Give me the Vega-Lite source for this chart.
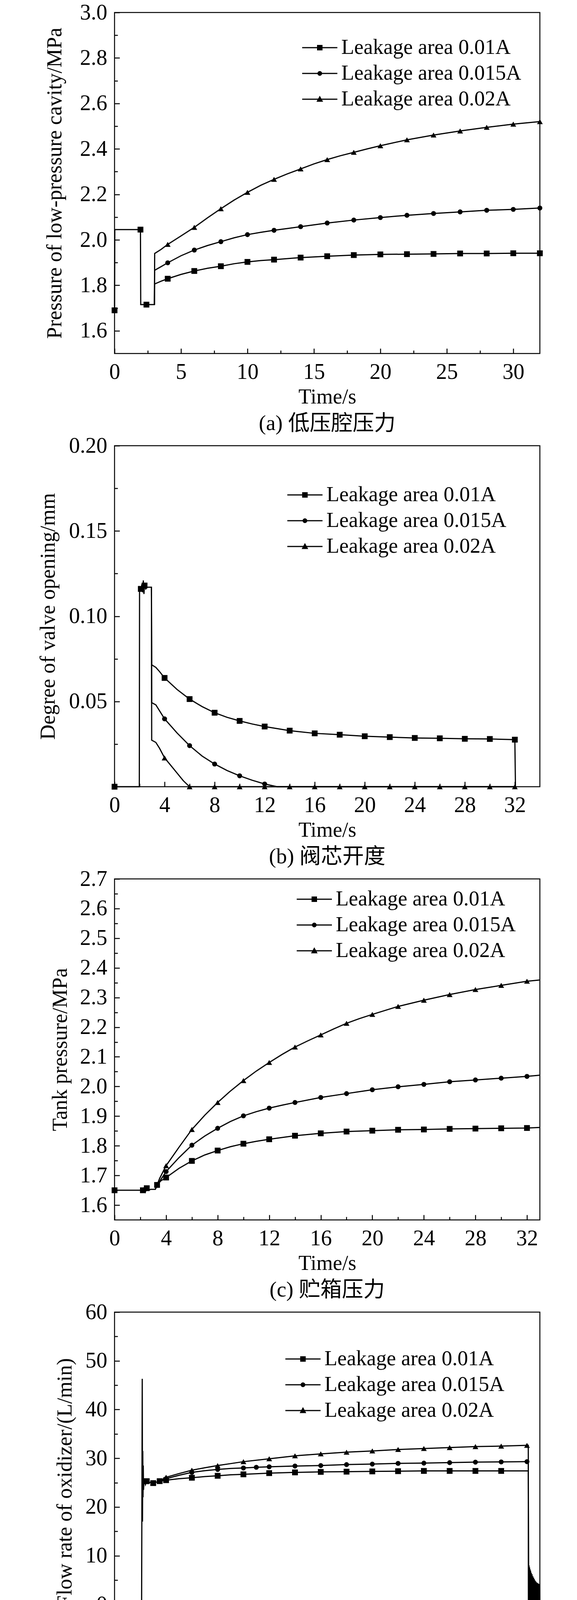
{
  "$schema": "https://vega.github.io/schema/vega-lite/v6.json",
  "background": "white",
  "padding": {"left": 94, "top": 2, "right": 5, "bottom": 0},
  "spacing": -3,
  "datasets": {
    "a": [
      {"t": 0, "v": 1.69, "s": "0.01A", "m": 1},
      {"t": 0.02, "v": 2.045, "s": "0.01A"},
      {"t": 1.95, "v": 2.045, "s": "0.01A", "m": 1},
      {"t": 1.97, "v": 1.715, "s": "0.01A"},
      {"t": 2.4, "v": 1.715, "s": "0.01A", "m": 1},
      {"t": 3.0, "v": 1.715, "s": "0.01A"},
      {"t": 3.02, "v": 1.806, "s": "0.01A"},
      {"t": 3.5, "v": 1.818, "s": "0.01A"},
      {"t": 4, "v": 1.829, "s": "0.01A", "m": 1},
      {"t": 5, "v": 1.848, "s": "0.01A"},
      {"t": 6, "v": 1.863, "s": "0.01A", "m": 1},
      {"t": 7, "v": 1.875, "s": "0.01A"},
      {"t": 8, "v": 1.884, "s": "0.01A", "m": 1},
      {"t": 9, "v": 1.895, "s": "0.01A"},
      {"t": 10, "v": 1.903, "s": "0.01A", "m": 1},
      {"t": 11, "v": 1.909, "s": "0.01A"},
      {"t": 12, "v": 1.913, "s": "0.01A", "m": 1},
      {"t": 14, "v": 1.922, "s": "0.01A", "m": 1},
      {"t": 16, "v": 1.928, "s": "0.01A", "m": 1},
      {"t": 18, "v": 1.933, "s": "0.01A", "m": 1},
      {"t": 20, "v": 1.936, "s": "0.01A", "m": 1},
      {"t": 22, "v": 1.937, "s": "0.01A", "m": 1},
      {"t": 24, "v": 1.938, "s": "0.01A", "m": 1},
      {"t": 26, "v": 1.94, "s": "0.01A", "m": 1},
      {"t": 28, "v": 1.94, "s": "0.01A", "m": 1},
      {"t": 30, "v": 1.941, "s": "0.01A", "m": 1},
      {"t": 32, "v": 1.941, "s": "0.01A", "m": 1},
      {"t": 3.0, "v": 1.715, "s": "0.015A"},
      {"t": 3.02, "v": 1.866, "s": "0.015A"},
      {"t": 3.5, "v": 1.882, "s": "0.015A"},
      {"t": 4, "v": 1.899, "s": "0.015A", "m": 1},
      {"t": 5, "v": 1.93, "s": "0.015A"},
      {"t": 6, "v": 1.955, "s": "0.015A", "m": 1},
      {"t": 7, "v": 1.975, "s": "0.015A"},
      {"t": 8, "v": 1.992, "s": "0.015A", "m": 1},
      {"t": 9, "v": 2.009, "s": "0.015A"},
      {"t": 10, "v": 2.023, "s": "0.015A", "m": 1},
      {"t": 11, "v": 2.033, "s": "0.015A"},
      {"t": 12, "v": 2.042, "s": "0.015A", "m": 1},
      {"t": 13, "v": 2.05, "s": "0.015A"},
      {"t": 14, "v": 2.058, "s": "0.015A", "m": 1},
      {"t": 16, "v": 2.074, "s": "0.015A", "m": 1},
      {"t": 18, "v": 2.087, "s": "0.015A", "m": 1},
      {"t": 20, "v": 2.098, "s": "0.015A", "m": 1},
      {"t": 22, "v": 2.108, "s": "0.015A", "m": 1},
      {"t": 24, "v": 2.116, "s": "0.015A", "m": 1},
      {"t": 26, "v": 2.123, "s": "0.015A", "m": 1},
      {"t": 28, "v": 2.13, "s": "0.015A", "m": 1},
      {"t": 30, "v": 2.134, "s": "0.015A", "m": 1},
      {"t": 32, "v": 2.14, "s": "0.015A", "m": 1},
      {"t": 3.0, "v": 1.715, "s": "0.02A"},
      {"t": 3.02, "v": 1.94, "s": "0.02A"},
      {"t": 3.5, "v": 1.958, "s": "0.02A"},
      {"t": 4, "v": 1.98, "s": "0.02A", "m": 1},
      {"t": 5, "v": 2.017, "s": "0.02A"},
      {"t": 6, "v": 2.055, "s": "0.02A", "m": 1},
      {"t": 7, "v": 2.097, "s": "0.02A"},
      {"t": 8, "v": 2.137, "s": "0.02A", "m": 1},
      {"t": 9, "v": 2.175, "s": "0.02A"},
      {"t": 10, "v": 2.209, "s": "0.02A", "m": 1},
      {"t": 11, "v": 2.24, "s": "0.02A"},
      {"t": 12, "v": 2.266, "s": "0.02A", "m": 1},
      {"t": 13, "v": 2.29, "s": "0.02A"},
      {"t": 14, "v": 2.312, "s": "0.02A", "m": 1},
      {"t": 15, "v": 2.334, "s": "0.02A"},
      {"t": 16, "v": 2.353, "s": "0.02A", "m": 1},
      {"t": 17, "v": 2.37, "s": "0.02A"},
      {"t": 18, "v": 2.385, "s": "0.02A", "m": 1},
      {"t": 19, "v": 2.4, "s": "0.02A"},
      {"t": 20, "v": 2.414, "s": "0.02A", "m": 1},
      {"t": 22, "v": 2.44, "s": "0.02A", "m": 1},
      {"t": 24, "v": 2.461, "s": "0.02A", "m": 1},
      {"t": 26, "v": 2.479, "s": "0.02A", "m": 1},
      {"t": 28, "v": 2.495, "s": "0.02A", "m": 1},
      {"t": 30, "v": 2.509, "s": "0.02A", "m": 1},
      {"t": 32, "v": 2.52, "s": "0.02A", "m": 1}
    ],
    "b": [
      {"t": 0, "v": 0, "s": "0.01A", "m": 1},
      {"t": 1.98, "v": 0, "s": "0.01A"},
      {"t": 2.0, "v": 0.117, "s": "0.01A"},
      {"t": 2.1, "v": 0.116, "s": "0.01A", "m": 1},
      {"t": 2.2, "v": 0.119, "s": "0.01A"},
      {"t": 2.25, "v": 0.114, "s": "0.01A"},
      {"t": 2.3, "v": 0.121, "s": "0.01A"},
      {"t": 2.35, "v": 0.113, "s": "0.01A"},
      {"t": 2.4, "v": 0.118, "s": "0.01A", "m": 1},
      {"t": 2.5, "v": 0.116, "s": "0.01A"},
      {"t": 2.6, "v": 0.117, "s": "0.01A"},
      {"t": 2.95, "v": 0.117, "s": "0.01A"},
      {"t": 2.97, "v": 0.0715, "s": "0.01A"},
      {"t": 3.3, "v": 0.07, "s": "0.01A"},
      {"t": 3.6, "v": 0.0675, "s": "0.01A"},
      {"t": 4, "v": 0.0638, "s": "0.01A", "m": 1},
      {"t": 5, "v": 0.057, "s": "0.01A"},
      {"t": 6, "v": 0.0514, "s": "0.01A", "m": 1},
      {"t": 7, "v": 0.047, "s": "0.01A"},
      {"t": 8, "v": 0.0434, "s": "0.01A", "m": 1},
      {"t": 9, "v": 0.0407, "s": "0.01A"},
      {"t": 10, "v": 0.0386, "s": "0.01A", "m": 1},
      {"t": 11, "v": 0.0368, "s": "0.01A"},
      {"t": 12, "v": 0.0353, "s": "0.01A", "m": 1},
      {"t": 14, "v": 0.0329, "s": "0.01A", "m": 1},
      {"t": 16, "v": 0.0313, "s": "0.01A", "m": 1},
      {"t": 18, "v": 0.0305, "s": "0.01A", "m": 1},
      {"t": 20, "v": 0.0296, "s": "0.01A", "m": 1},
      {"t": 22, "v": 0.0291, "s": "0.01A", "m": 1},
      {"t": 24, "v": 0.0286, "s": "0.01A", "m": 1},
      {"t": 26, "v": 0.0284, "s": "0.01A", "m": 1},
      {"t": 28, "v": 0.0281, "s": "0.01A", "m": 1},
      {"t": 30, "v": 0.028, "s": "0.01A", "m": 1},
      {"t": 32, "v": 0.0276, "s": "0.01A", "m": 1},
      {"t": 32.05, "v": 0, "s": "0.01A"},
      {"t": 2.95, "v": 0.117, "s": "0.015A"},
      {"t": 2.97, "v": 0.0493, "s": "0.015A"},
      {"t": 3.3, "v": 0.048, "s": "0.015A"},
      {"t": 3.6, "v": 0.0445, "s": "0.015A"},
      {"t": 4, "v": 0.0398, "s": "0.015A", "m": 1},
      {"t": 5, "v": 0.0315, "s": "0.015A"},
      {"t": 6, "v": 0.0241, "s": "0.015A", "m": 1},
      {"t": 7, "v": 0.018, "s": "0.015A"},
      {"t": 8, "v": 0.0133, "s": "0.015A", "m": 1},
      {"t": 9, "v": 0.0095, "s": "0.015A"},
      {"t": 10, "v": 0.0064, "s": "0.015A", "m": 1},
      {"t": 11, "v": 0.0038, "s": "0.015A"},
      {"t": 12, "v": 0.0016, "s": "0.015A", "m": 1},
      {"t": 13, "v": 0, "s": "0.015A"},
      {"t": 32, "v": 0, "s": "0.015A"},
      {"t": 2.95, "v": 0.117, "s": "0.02A"},
      {"t": 2.97, "v": 0.0273, "s": "0.02A"},
      {"t": 3.3, "v": 0.026, "s": "0.02A"},
      {"t": 3.6, "v": 0.0225, "s": "0.02A"},
      {"t": 4, "v": 0.0169, "s": "0.02A", "m": 1},
      {"t": 4.5, "v": 0.0125, "s": "0.02A"},
      {"t": 5, "v": 0.008, "s": "0.02A"},
      {"t": 5.5, "v": 0.0035, "s": "0.02A"},
      {"t": 6, "v": 0, "s": "0.02A", "m": 1},
      {"t": 8, "v": 0, "s": "0.02A", "m": 1},
      {"t": 10, "v": 0, "s": "0.02A", "m": 1},
      {"t": 12, "v": 0, "s": "0.02A", "m": 1},
      {"t": 14, "v": 0, "s": "0.02A", "m": 1},
      {"t": 16, "v": 0, "s": "0.02A", "m": 1},
      {"t": 18, "v": 0, "s": "0.02A", "m": 1},
      {"t": 20, "v": 0, "s": "0.02A", "m": 1},
      {"t": 22, "v": 0, "s": "0.02A", "m": 1},
      {"t": 24, "v": 0, "s": "0.02A", "m": 1},
      {"t": 26, "v": 0, "s": "0.02A", "m": 1},
      {"t": 28, "v": 0, "s": "0.02A", "m": 1},
      {"t": 30, "v": 0, "s": "0.02A", "m": 1},
      {"t": 32, "v": 0, "s": "0.02A", "m": 1}
    ],
    "c": [
      {"t": 0, "v": 1.65, "s": "0.01A", "m": 1},
      {"t": 1, "v": 1.65, "s": "0.01A"},
      {"t": 2, "v": 1.65, "s": "0.01A"},
      {"t": 2.2, "v": 1.65, "s": "0.01A", "m": 1},
      {"t": 2.25, "v": 1.642, "s": "0.01A"},
      {"t": 2.3, "v": 1.66, "s": "0.01A"},
      {"t": 2.4, "v": 1.645, "s": "0.01A"},
      {"t": 2.5, "v": 1.657, "s": "0.01A", "m": 1},
      {"t": 2.6, "v": 1.65, "s": "0.01A"},
      {"t": 2.8, "v": 1.653, "s": "0.01A"},
      {"t": 3.16, "v": 1.653, "s": "0.01A"},
      {"t": 3.3, "v": 1.668, "s": "0.01A", "m": 1},
      {"t": 3.6, "v": 1.682, "s": "0.01A"},
      {"t": 4, "v": 1.693, "s": "0.01A", "m": 1},
      {"t": 5, "v": 1.724, "s": "0.01A"},
      {"t": 6, "v": 1.749, "s": "0.01A", "m": 1},
      {"t": 7, "v": 1.769, "s": "0.01A"},
      {"t": 8, "v": 1.784, "s": "0.01A", "m": 1},
      {"t": 9, "v": 1.797, "s": "0.01A"},
      {"t": 10, "v": 1.807, "s": "0.01A", "m": 1},
      {"t": 11, "v": 1.815, "s": "0.01A"},
      {"t": 12, "v": 1.822, "s": "0.01A", "m": 1},
      {"t": 14, "v": 1.834, "s": "0.01A", "m": 1},
      {"t": 16, "v": 1.842, "s": "0.01A", "m": 1},
      {"t": 18, "v": 1.848, "s": "0.01A", "m": 1},
      {"t": 20, "v": 1.851, "s": "0.01A", "m": 1},
      {"t": 22, "v": 1.854, "s": "0.01A", "m": 1},
      {"t": 24, "v": 1.855, "s": "0.01A", "m": 1},
      {"t": 26, "v": 1.857, "s": "0.01A", "m": 1},
      {"t": 28, "v": 1.858, "s": "0.01A", "m": 1},
      {"t": 30, "v": 1.859, "s": "0.01A", "m": 1},
      {"t": 32, "v": 1.86, "s": "0.01A", "m": 1},
      {"t": 33, "v": 1.862, "s": "0.01A"},
      {"t": 3.16, "v": 1.653, "s": "0.015A"},
      {"t": 3.5, "v": 1.68, "s": "0.015A"},
      {"t": 4, "v": 1.713, "s": "0.015A", "m": 1},
      {"t": 5, "v": 1.76, "s": "0.015A"},
      {"t": 6, "v": 1.802, "s": "0.015A", "m": 1},
      {"t": 7, "v": 1.833, "s": "0.015A"},
      {"t": 8, "v": 1.859, "s": "0.015A", "m": 1},
      {"t": 9, "v": 1.882, "s": "0.015A"},
      {"t": 10, "v": 1.901, "s": "0.015A", "m": 1},
      {"t": 11, "v": 1.915, "s": "0.015A"},
      {"t": 12, "v": 1.927, "s": "0.015A", "m": 1},
      {"t": 13, "v": 1.937, "s": "0.015A"},
      {"t": 14, "v": 1.946, "s": "0.015A", "m": 1},
      {"t": 16, "v": 1.963, "s": "0.015A", "m": 1},
      {"t": 18, "v": 1.976, "s": "0.015A", "m": 1},
      {"t": 20, "v": 1.989, "s": "0.015A", "m": 1},
      {"t": 22, "v": 1.999, "s": "0.015A", "m": 1},
      {"t": 24, "v": 2.007, "s": "0.015A", "m": 1},
      {"t": 26, "v": 2.016, "s": "0.015A", "m": 1},
      {"t": 28, "v": 2.022, "s": "0.015A", "m": 1},
      {"t": 30, "v": 2.028, "s": "0.015A", "m": 1},
      {"t": 32, "v": 2.034, "s": "0.015A", "m": 1},
      {"t": 33, "v": 2.038, "s": "0.015A"},
      {"t": 3.16, "v": 1.653, "s": "0.02A"},
      {"t": 3.5, "v": 1.69, "s": "0.02A"},
      {"t": 4, "v": 1.733, "s": "0.02A", "m": 1},
      {"t": 5, "v": 1.795, "s": "0.02A"},
      {"t": 6, "v": 1.855, "s": "0.02A", "m": 1},
      {"t": 7, "v": 1.903, "s": "0.02A"},
      {"t": 8, "v": 1.946, "s": "0.02A", "m": 1},
      {"t": 9, "v": 1.985, "s": "0.02A"},
      {"t": 10, "v": 2.02, "s": "0.02A", "m": 1},
      {"t": 11, "v": 2.052, "s": "0.02A"},
      {"t": 12, "v": 2.081, "s": "0.02A", "m": 1},
      {"t": 13, "v": 2.108, "s": "0.02A"},
      {"t": 14, "v": 2.133, "s": "0.02A", "m": 1},
      {"t": 15, "v": 2.154, "s": "0.02A"},
      {"t": 16, "v": 2.174, "s": "0.02A", "m": 1},
      {"t": 17, "v": 2.194, "s": "0.02A"},
      {"t": 18, "v": 2.213, "s": "0.02A", "m": 1},
      {"t": 19, "v": 2.229, "s": "0.02A"},
      {"t": 20, "v": 2.243, "s": "0.02A", "m": 1},
      {"t": 22, "v": 2.27, "s": "0.02A", "m": 1},
      {"t": 24, "v": 2.291, "s": "0.02A", "m": 1},
      {"t": 26, "v": 2.31, "s": "0.02A", "m": 1},
      {"t": 28, "v": 2.327, "s": "0.02A", "m": 1},
      {"t": 30, "v": 2.341, "s": "0.02A", "m": 1},
      {"t": 32, "v": 2.355, "s": "0.02A", "m": 1},
      {"t": 33, "v": 2.359, "s": "0.02A"}
    ],
    "d": [
      {"t": 0, "v": 0, "s": "0.01A", "m": 1},
      {"t": 1, "v": 0, "s": "0.01A"},
      {"t": 2, "v": 0, "s": "0.01A", "m": 1},
      {"t": 2.1, "v": 0, "s": "0.01A"},
      {"t": 2.15, "v": 46.3, "s": "0.01A"},
      {"t": 2.17, "v": 17, "s": "0.01A"},
      {"t": 2.19, "v": 31.5, "s": "0.01A"},
      {"t": 2.21, "v": 22, "s": "0.01A"},
      {"t": 2.23, "v": 28.5, "s": "0.01A"},
      {"t": 2.25, "v": 23.5, "s": "0.01A"},
      {"t": 2.3, "v": 25.8, "s": "0.01A"},
      {"t": 2.4, "v": 24.6, "s": "0.01A"},
      {"t": 2.5, "v": 25.3, "s": "0.01A", "m": 1},
      {"t": 2.6, "v": 24.8, "s": "0.01A"},
      {"t": 2.8, "v": 25.1, "s": "0.01A"},
      {"t": 3, "v": 24.9, "s": "0.01A", "m": 1},
      {"t": 3.5, "v": 25.3, "s": "0.01A", "m": 1},
      {"t": 4, "v": 25.5, "s": "0.01A", "m": 1},
      {"t": 5, "v": 25.8, "s": "0.01A"},
      {"t": 6, "v": 26.0, "s": "0.01A", "m": 1},
      {"t": 7, "v": 26.25, "s": "0.01A"},
      {"t": 8, "v": 26.4, "s": "0.01A", "m": 1},
      {"t": 9, "v": 26.6, "s": "0.01A"},
      {"t": 10, "v": 26.7, "s": "0.01A", "m": 1},
      {"t": 12, "v": 26.95, "s": "0.01A", "m": 1},
      {"t": 14, "v": 27.1, "s": "0.01A", "m": 1},
      {"t": 16, "v": 27.2, "s": "0.01A", "m": 1},
      {"t": 18, "v": 27.25, "s": "0.01A", "m": 1},
      {"t": 20, "v": 27.3, "s": "0.01A", "m": 1},
      {"t": 22, "v": 27.35, "s": "0.01A", "m": 1},
      {"t": 24, "v": 27.4, "s": "0.01A", "m": 1},
      {"t": 26, "v": 27.4, "s": "0.01A", "m": 1},
      {"t": 28, "v": 27.4, "s": "0.01A", "m": 1},
      {"t": 30, "v": 27.4, "s": "0.01A", "m": 1},
      {"t": 32, "v": 27.4, "s": "0.01A"},
      {"t": 32.1, "v": 27.4, "s": "0.01A"},
      {"t": 32.12, "v": 0, "s": "0.01A"},
      {"t": 3.5, "v": 25.3, "s": "0.015A"},
      {"t": 4, "v": 25.8, "s": "0.015A", "m": 1},
      {"t": 5, "v": 26.5, "s": "0.015A"},
      {"t": 6, "v": 27.1, "s": "0.015A", "m": 1},
      {"t": 7, "v": 27.45, "s": "0.015A"},
      {"t": 8, "v": 27.7, "s": "0.015A", "m": 1},
      {"t": 9, "v": 27.9, "s": "0.015A"},
      {"t": 10, "v": 28.0, "s": "0.015A", "m": 1},
      {"t": 11, "v": 28.15, "s": "0.015A", "m": 1},
      {"t": 12, "v": 28.25, "s": "0.015A", "m": 1},
      {"t": 14, "v": 28.4, "s": "0.015A", "m": 1},
      {"t": 16, "v": 28.5, "s": "0.015A", "m": 1},
      {"t": 18, "v": 28.7, "s": "0.015A", "m": 1},
      {"t": 20, "v": 28.8, "s": "0.015A", "m": 1},
      {"t": 22, "v": 28.95, "s": "0.015A", "m": 1},
      {"t": 24, "v": 29.0, "s": "0.015A", "m": 1},
      {"t": 26, "v": 29.1, "s": "0.015A", "m": 1},
      {"t": 28, "v": 29.2, "s": "0.015A", "m": 1},
      {"t": 30, "v": 29.25, "s": "0.015A", "m": 1},
      {"t": 32, "v": 29.3, "s": "0.015A", "m": 1},
      {"t": 32.1, "v": 29.3, "s": "0.015A"},
      {"t": 32.12, "v": 0, "s": "0.015A"},
      {"t": 3.5, "v": 25.3, "s": "0.02A"},
      {"t": 4, "v": 26.1, "s": "0.02A", "m": 1},
      {"t": 5, "v": 26.85, "s": "0.02A"},
      {"t": 6, "v": 27.55, "s": "0.02A", "m": 1},
      {"t": 7, "v": 28.05, "s": "0.02A"},
      {"t": 8, "v": 28.5, "s": "0.02A", "m": 1},
      {"t": 9, "v": 28.9, "s": "0.02A"},
      {"t": 10, "v": 29.3, "s": "0.02A", "m": 1},
      {"t": 12, "v": 29.9, "s": "0.02A", "m": 1},
      {"t": 14, "v": 30.5, "s": "0.02A", "m": 1},
      {"t": 16, "v": 30.9, "s": "0.02A", "m": 1},
      {"t": 18, "v": 31.25, "s": "0.02A", "m": 1},
      {"t": 20, "v": 31.5, "s": "0.02A", "m": 1},
      {"t": 22, "v": 31.8, "s": "0.02A", "m": 1},
      {"t": 24, "v": 32.0, "s": "0.02A", "m": 1},
      {"t": 26, "v": 32.2, "s": "0.02A", "m": 1},
      {"t": 28, "v": 32.4, "s": "0.02A", "m": 1},
      {"t": 30, "v": 32.5, "s": "0.02A", "m": 1},
      {"t": 32, "v": 32.65, "s": "0.02A", "m": 1},
      {"t": 32.1, "v": 32.65, "s": "0.02A"},
      {"t": 32.12, "v": 8.2, "s": "0.02A"},
      {"t": 32.14, "v": -6.2, "s": "0.02A"},
      {"t": 32.16, "v": 8.0, "s": "0.02A"},
      {"t": 32.18, "v": -5.8, "s": "0.02A"},
      {"t": 32.2, "v": 7.6, "s": "0.02A"},
      {"t": 32.22, "v": -5.5, "s": "0.02A"},
      {"t": 32.24, "v": 7.2, "s": "0.02A"},
      {"t": 32.26, "v": -5.2, "s": "0.02A"},
      {"t": 32.28, "v": 6.9, "s": "0.02A"},
      {"t": 32.3, "v": -5.0, "s": "0.02A"},
      {"t": 32.33, "v": 6.5, "s": "0.02A"},
      {"t": 32.36, "v": -4.8, "s": "0.02A"},
      {"t": 32.39, "v": 6.2, "s": "0.02A"},
      {"t": 32.42, "v": -4.6, "s": "0.02A"},
      {"t": 32.45, "v": 5.8, "s": "0.02A"},
      {"t": 32.48, "v": -4.4, "s": "0.02A"},
      {"t": 32.51, "v": 5.5, "s": "0.02A"},
      {"t": 32.54, "v": -4.2, "s": "0.02A"},
      {"t": 32.57, "v": 5.2, "s": "0.02A"},
      {"t": 32.6, "v": -4.0, "s": "0.02A"},
      {"t": 32.63, "v": 4.9, "s": "0.02A"},
      {"t": 32.66, "v": -3.8, "s": "0.02A"},
      {"t": 32.69, "v": 4.7, "s": "0.02A"},
      {"t": 32.72, "v": -3.6, "s": "0.02A"},
      {"t": 32.75, "v": 4.5, "s": "0.02A"},
      {"t": 32.78, "v": -3.4, "s": "0.02A"},
      {"t": 32.81, "v": 4.4, "s": "0.02A"},
      {"t": 32.84, "v": -3.2, "s": "0.02A"},
      {"t": 32.87, "v": 4.3, "s": "0.02A"},
      {"t": 32.9, "v": -3.1, "s": "0.02A"},
      {"t": 32.93, "v": 4.2, "s": "0.02A"},
      {"t": 32.96, "v": -3.0, "s": "0.02A"},
      {"t": 32.99, "v": 4.2, "s": "0.02A"},
      {"t": 33.0, "v": -3.0, "s": "0.02A"}
    ],
    "e": [
      {"t": 0, "v": 0, "s": "0.01A", "m": 1},
      {"t": 1, "v": 0, "s": "0.01A"},
      {"t": 2, "v": 0, "s": "0.01A", "m": 1},
      {"t": 2.12, "v": 0, "s": "0.01A"},
      {"t": 2.15, "v": 0.83, "s": "0.01A"},
      {"t": 2.2, "v": 0.8, "s": "0.01A"},
      {"t": 2.4, "v": 0.803, "s": "0.01A"},
      {"t": 3, "v": 0.805, "s": "0.01A"},
      {"t": 3.5, "v": 0.806, "s": "0.01A"},
      {"t": 4, "v": 0.808, "s": "0.01A", "m": 1},
      {"t": 5, "v": 0.814, "s": "0.01A"},
      {"t": 6, "v": 0.82, "s": "0.01A", "m": 1},
      {"t": 7, "v": 0.823, "s": "0.01A"},
      {"t": 8, "v": 0.826, "s": "0.01A", "m": 1},
      {"t": 10, "v": 0.831, "s": "0.01A", "m": 1},
      {"t": 12, "v": 0.833, "s": "0.01A", "m": 1},
      {"t": 14, "v": 0.835, "s": "0.01A", "m": 1},
      {"t": 16, "v": 0.837, "s": "0.01A", "m": 1},
      {"t": 18, "v": 0.838, "s": "0.01A", "m": 1},
      {"t": 20, "v": 0.839, "s": "0.01A", "m": 1},
      {"t": 22, "v": 0.839, "s": "0.01A", "m": 1},
      {"t": 24, "v": 0.839, "s": "0.01A", "m": 1},
      {"t": 26, "v": 0.839, "s": "0.01A", "m": 1},
      {"t": 28, "v": 0.839, "s": "0.01A", "m": 1},
      {"t": 30, "v": 0.839, "s": "0.01A", "m": 1},
      {"t": 32, "v": 0.84, "s": "0.01A"},
      {"t": 32.1, "v": 0.84, "s": "0.01A"},
      {"t": 32.15, "v": 0.035, "s": "0.01A"},
      {"t": 32.3, "v": 0.034, "s": "0.01A", "m": 1},
      {"t": 32.8, "v": 0.032, "s": "0.01A"},
      {"t": 33.1, "v": 0.028, "s": "0.01A"},
      {"t": 33.4, "v": 0.018, "s": "0.01A"},
      {"t": 33.6, "v": 0, "s": "0.01A"},
      {"t": 3.5, "v": 0.806, "s": "0.015A"},
      {"t": 4, "v": 0.814, "s": "0.015A", "m": 1},
      {"t": 5, "v": 0.822, "s": "0.015A"},
      {"t": 6, "v": 0.83, "s": "0.015A", "m": 1},
      {"t": 7, "v": 0.836, "s": "0.015A"},
      {"t": 8, "v": 0.841, "s": "0.015A", "m": 1},
      {"t": 10, "v": 0.85, "s": "0.015A", "m": 1},
      {"t": 12, "v": 0.853, "s": "0.015A", "m": 1},
      {"t": 14, "v": 0.855, "s": "0.015A", "m": 1},
      {"t": 16, "v": 0.859, "s": "0.015A", "m": 1},
      {"t": 18, "v": 0.861, "s": "0.015A", "m": 1},
      {"t": 20, "v": 0.864, "s": "0.015A", "m": 1},
      {"t": 22, "v": 0.866, "s": "0.015A", "m": 1},
      {"t": 24, "v": 0.866, "s": "0.015A", "m": 1},
      {"t": 26, "v": 0.868, "s": "0.015A", "m": 1},
      {"t": 28, "v": 0.87, "s": "0.015A", "m": 1},
      {"t": 30, "v": 0.872, "s": "0.015A", "m": 1},
      {"t": 32, "v": 0.87, "s": "0.015A", "m": 1},
      {"t": 32.1, "v": 0.87, "s": "0.015A"},
      {"t": 32.15, "v": 0.035, "s": "0.015A"},
      {"t": 3.5, "v": 0.806, "s": "0.02A"},
      {"t": 4, "v": 0.822, "s": "0.02A", "m": 1},
      {"t": 5, "v": 0.832, "s": "0.02A"},
      {"t": 6, "v": 0.841, "s": "0.02A", "m": 1},
      {"t": 7, "v": 0.849, "s": "0.02A"},
      {"t": 8, "v": 0.857, "s": "0.02A", "m": 1},
      {"t": 9, "v": 0.864, "s": "0.02A"},
      {"t": 10, "v": 0.871, "s": "0.02A", "m": 1},
      {"t": 12, "v": 0.879, "s": "0.02A", "m": 1},
      {"t": 14, "v": 0.888, "s": "0.02A", "m": 1},
      {"t": 16, "v": 0.896, "s": "0.02A", "m": 1},
      {"t": 18, "v": 0.9, "s": "0.02A", "m": 1},
      {"t": 20, "v": 0.906, "s": "0.02A", "m": 1},
      {"t": 22, "v": 0.911, "s": "0.02A", "m": 1},
      {"t": 24, "v": 0.917, "s": "0.02A", "m": 1},
      {"t": 26, "v": 0.918, "s": "0.02A", "m": 1},
      {"t": 28, "v": 0.922, "s": "0.02A", "m": 1},
      {"t": 30, "v": 0.924, "s": "0.02A", "m": 1},
      {"t": 32, "v": 0.925, "s": "0.02A", "m": 1},
      {"t": 32.1, "v": 0.925, "s": "0.02A"},
      {"t": 32.15, "v": 0.035, "s": "0.02A"}
    ]
  },
  "vconcat": [
    {
      "width": 1088,
      "height": 873,
      "data": {"name": "a"},
      "title": {"text": "(a) 低压腔压力"},
      "encoding": {
        "x": {
          "field": "t", "type": "quantitative",
          "scale": {"domain": [0, 32], "nice": false, "zero": false},
          "axis": {
            "title": "Time/s",
            "values": [0, 2.5, 5, 7.5, 10, 12.5, 15, 17.5, 20, 22.5, 25, 27.5, 30],
            "labelExpr": "datum.value % 5 === 0 ? datum.label : ''",
            "tickSize": {"condition": {"test": "datum.value % 5 === 0", "value": -13}, "value": -8}
          }
        },
        "y": {
          "field": "v", "type": "quantitative",
          "scale": {"domain": [1.5, 3.0], "nice": false, "zero": false},
          "axis": {
            "title": "Pressure of low-pressure cavity/MPa",
            "titlePadding": 37,
            "format": ".1f",
            "values": [1.6, 1.7, 1.8, 1.9, 2.0, 2.1, 2.2, 2.3, 2.4, 2.5, 2.6, 2.7, 2.8, 2.9, 3.0],
            "labelExpr": "round(datum.value * 10) % 2 === 0 ? datum.label : ''",
            "tickSize": {"condition": {"test": "round(datum.value * 10) % 2 === 0", "value": -13}, "value": -8}
          }
        }
      },
      "layer": [
        {"mark": {"type": "line", "color": "black", "strokeWidth": 3}, "encoding": {"detail": {"field": "s"}}},
        {"transform": [{"filter": "datum.m === 1 && datum.s === '0.01A'"}], "mark": {"type": "point", "shape": "square", "filled": true, "color": "black", "opacity": 1, "size": 220}},
        {"transform": [{"filter": "datum.m === 1 && datum.s === '0.015A'"}], "mark": {"type": "point", "shape": "circle", "filled": true, "color": "black", "opacity": 1, "size": 160}},
        {"transform": [{"filter": "datum.m === 1 && datum.s === '0.02A'"}], "mark": {"type": "point", "shape": "triangle-up", "filled": true, "color": "black", "opacity": 1, "size": 220}},
        {
          "transform": [{"filter": "datum.m === 9"}],
          "mark": {"type": "point", "filled": true, "color": "black", "opacity": 1, "size": 2500},
          "encoding": {
            "shape": {
              "field": "s", "type": "nominal",
              "scale": {"domain": ["0.01A", "0.015A", "0.02A"], "range": [
                "M-1.8,-0.06L1.8,-0.06L1.8,0.06L-1.8,0.06Z M-0.28,-0.28L0.28,-0.28L0.28,0.28L-0.28,0.28Z",
                "M-1.8,-0.06L1.8,-0.06L1.8,0.06L-1.8,0.06Z M-0.24,0A0.24,0.24 0 1,1 0.24,0A0.24,0.24 0 1,1 -0.24,0Z",
                "M-1.8,-0.06L1.8,-0.06L1.8,0.06L-1.8,0.06Z M0,-0.36L0.34,0.26L-0.34,0.26Z"]},
              "legend": {"title": null, "orient": "none", "legendX": 498, "legendY": 63, "labelExpr": "'Leakage area ' + datum.label"}
            }
          }
        }
      ]
    },
    {
      "width": 1088,
      "height": 873,
      "data": {"name": "b"},
      "title": {"text": "(b) 阀芯开度"},
      "encoding": {
        "x": {
          "field": "t", "type": "quantitative",
          "scale": {"domain": [0, 34], "nice": false, "zero": false},
          "axis": {
            "title": "Time/s",
            "values": [0, 2, 4, 6, 8, 10, 12, 14, 16, 18, 20, 22, 24, 26, 28, 30, 32],
            "labelExpr": "datum.value % 4 === 0 ? datum.label : ''",
            "tickSize": {"condition": {"test": "datum.value % 4 === 0", "value": -13}, "value": -8}
          }
        },
        "y": {
          "field": "v", "type": "quantitative",
          "scale": {"domain": [0, 0.2], "nice": false, "zero": false},
          "axis": {
            "title": "Degree of valve opening/mm",
            "titlePadding": 26,
            "format": ".2f",
            "values": [0.025, 0.05, 0.075, 0.1, 0.125, 0.15, 0.175, 0.2],
            "labelExpr": "round(datum.value * 1000) % 50 === 0 ? datum.label : ''",
            "tickSize": {"condition": {"test": "round(datum.value * 1000) % 50 === 0", "value": -13}, "value": -8}
          }
        }
      },
      "layer": [
        {"mark": {"type": "line", "color": "black", "strokeWidth": 3}, "encoding": {"detail": {"field": "s"}}},
        {"transform": [{"filter": "datum.m === 1 && datum.s === '0.01A'"}], "mark": {"type": "point", "shape": "square", "filled": true, "color": "black", "opacity": 1, "size": 220}},
        {"transform": [{"filter": "datum.m === 1 && datum.s === '0.015A'"}], "mark": {"type": "point", "shape": "circle", "filled": true, "color": "black", "opacity": 1, "size": 160}},
        {"transform": [{"filter": "datum.m === 1 && datum.s === '0.02A'"}], "mark": {"type": "point", "shape": "triangle-up", "filled": true, "color": "black", "opacity": 1, "size": 220}},
        {
          "transform": [{"filter": "datum.m === 9"}],
          "mark": {"type": "point", "filled": true, "color": "black", "opacity": 1, "size": 2500},
          "encoding": {
            "shape": {
              "field": "s", "type": "nominal",
              "scale": {"domain": ["0.01A", "0.015A", "0.02A"], "range": [
                "M-1.8,-0.06L1.8,-0.06L1.8,0.06L-1.8,0.06Z M-0.28,-0.28L0.28,-0.28L0.28,0.28L-0.28,0.28Z",
                "M-1.8,-0.06L1.8,-0.06L1.8,0.06L-1.8,0.06Z M-0.24,0A0.24,0.24 0 1,1 0.24,0A0.24,0.24 0 1,1 -0.24,0Z",
                "M-1.8,-0.06L1.8,-0.06L1.8,0.06L-1.8,0.06Z M0,-0.36L0.34,0.26L-0.34,0.26Z"]},
              "legend": {"title": null, "orient": "none", "legendX": 460, "legendY": 99, "labelExpr": "'Leakage area ' + datum.label"}
            }
          }
        }
      ]
    },
    {
      "width": 1088,
      "height": 873,
      "data": {"name": "c"},
      "title": {"text": "(c) 贮箱压力"},
      "encoding": {
        "x": {
          "field": "t", "type": "quantitative",
          "scale": {"domain": [0, 33], "nice": false, "zero": false},
          "axis": {
            "title": "Time/s",
            "values": [0, 2, 4, 6, 8, 10, 12, 14, 16, 18, 20, 22, 24, 26, 28, 30, 32],
            "labelExpr": "datum.value % 4 === 0 ? datum.label : ''",
            "tickSize": {"condition": {"test": "datum.value % 4 === 0", "value": -13}, "value": -8}
          }
        },
        "y": {
          "field": "v", "type": "quantitative",
          "scale": {"domain": [1.55, 2.7], "nice": false, "zero": false},
          "axis": {
            "title": "Tank pressure/MPa",
            "titlePadding": 23,
            "format": ".1f",
            "values": [1.6, 1.65, 1.7, 1.75, 1.8, 1.85, 1.9, 1.95, 2.0, 2.05, 2.1, 2.15, 2.2, 2.25, 2.3, 2.35, 2.4, 2.45, 2.5, 2.55, 2.6, 2.65, 2.7],
            "labelExpr": "round(datum.value * 100) % 10 === 0 ? datum.label : ''",
            "tickSize": {"condition": {"test": "round(datum.value * 100) % 10 === 0", "value": -13}, "value": -8}
          }
        }
      },
      "layer": [
        {"mark": {"type": "line", "color": "black", "strokeWidth": 3}, "encoding": {"detail": {"field": "s"}}},
        {"transform": [{"filter": "datum.m === 1 && datum.s === '0.01A'"}], "mark": {"type": "point", "shape": "square", "filled": true, "color": "black", "opacity": 1, "size": 220}},
        {"transform": [{"filter": "datum.m === 1 && datum.s === '0.015A'"}], "mark": {"type": "point", "shape": "circle", "filled": true, "color": "black", "opacity": 1, "size": 160}},
        {"transform": [{"filter": "datum.m === 1 && datum.s === '0.02A'"}], "mark": {"type": "point", "shape": "triangle-up", "filled": true, "color": "black", "opacity": 1, "size": 220}},
        {
          "transform": [{"filter": "datum.m === 9"}],
          "mark": {"type": "point", "filled": true, "color": "black", "opacity": 1, "size": 2500},
          "encoding": {
            "shape": {
              "field": "s", "type": "nominal",
              "scale": {"domain": ["0.01A", "0.015A", "0.02A"], "range": [
                "M-1.8,-0.06L1.8,-0.06L1.8,0.06L-1.8,0.06Z M-0.28,-0.28L0.28,-0.28L0.28,0.28L-0.28,0.28Z",
                "M-1.8,-0.06L1.8,-0.06L1.8,0.06L-1.8,0.06Z M-0.24,0A0.24,0.24 0 1,1 0.24,0A0.24,0.24 0 1,1 -0.24,0Z",
                "M-1.8,-0.06L1.8,-0.06L1.8,0.06L-1.8,0.06Z M0,-0.36L0.34,0.26L-0.34,0.26Z"]},
              "legend": {"title": null, "orient": "none", "legendX": 484, "legendY": 25, "labelExpr": "'Leakage area ' + datum.label"}
            }
          }
        }
      ]
    },
    {
      "width": 1088,
      "height": 873,
      "data": {"name": "d"},
      "title": {"text": "(d) 氧化剂体积流量"},
      "encoding": {
        "x": {
          "field": "t", "type": "quantitative",
          "scale": {"domain": [0, 33], "nice": false, "zero": false},
          "axis": {
            "title": "Time/s",
            "values": [0, 2, 4, 6, 8, 10, 12, 14, 16, 18, 20, 22, 24, 26, 28, 30, 32],
            "labelExpr": "datum.value % 4 === 0 ? datum.label : ''",
            "tickSize": {"condition": {"test": "datum.value % 4 === 0", "value": -13}, "value": -8}
          }
        },
        "y": {
          "field": "v", "type": "quantitative",
          "scale": {"domain": [-10, 60], "nice": false, "zero": false},
          "axis": {
            "title": "Flow rate of oxidizer/(L/min)",
            "titleX": -100,
            "titleY": 436,
            "titleAngle": 270,
            "titleAlign": "center",
            "titleBaseline": "bottom",
            "values": [-10, -5, 0, 5, 10, 15, 20, 25, 30, 35, 40, 45, 50, 55, 60],
            "labelExpr": "datum.value % 10 === 0 ? datum.label : ''",
            "tickSize": {"condition": {"test": "datum.value % 10 === 0", "value": -13}, "value": -8}
          }
        }
      },
      "layer": [
        {"mark": {"type": "line", "color": "black", "strokeWidth": 3}, "encoding": {"detail": {"field": "s"}}},
        {"transform": [{"filter": "datum.m === 1 && datum.s === '0.01A'"}], "mark": {"type": "point", "shape": "square", "filled": true, "color": "black", "opacity": 1, "size": 220}},
        {"transform": [{"filter": "datum.m === 1 && datum.s === '0.015A'"}], "mark": {"type": "point", "shape": "circle", "filled": true, "color": "black", "opacity": 1, "size": 160}},
        {"transform": [{"filter": "datum.m === 1 && datum.s === '0.02A'"}], "mark": {"type": "point", "shape": "triangle-up", "filled": true, "color": "black", "opacity": 1, "size": 220}},
        {
          "transform": [{"filter": "datum.m === 9"}],
          "mark": {"type": "point", "filled": true, "color": "black", "opacity": 1, "size": 2500},
          "encoding": {
            "shape": {
              "field": "s", "type": "nominal",
              "scale": {"domain": ["0.01A", "0.015A", "0.02A"], "range": [
                "M-1.8,-0.06L1.8,-0.06L1.8,0.06L-1.8,0.06Z M-0.28,-0.28L0.28,-0.28L0.28,0.28L-0.28,0.28Z",
                "M-1.8,-0.06L1.8,-0.06L1.8,0.06L-1.8,0.06Z M-0.24,0A0.24,0.24 0 1,1 0.24,0A0.24,0.24 0 1,1 -0.24,0Z",
                "M-1.8,-0.06L1.8,-0.06L1.8,0.06L-1.8,0.06Z M0,-0.36L0.34,0.26L-0.34,0.26Z"]},
              "legend": {"title": null, "orient": "none", "legendX": 455, "legendY": 93, "labelExpr": "'Leakage area ' + datum.label"}
            }
          }
        }
      ]
    },
    {
      "width": 1088,
      "height": 873,
      "data": {"name": "e"},
      "title": {"text": "(e) 燃烧室压力"},
      "encoding": {
        "x": {
          "field": "t", "type": "quantitative",
          "scale": {"domain": [0, 34], "nice": false, "zero": false},
          "axis": {
            "title": "Time/s",
            "values": [0, 2, 4, 6, 8, 10, 12, 14, 16, 18, 20, 22, 24, 26, 28, 30, 32],
            "labelExpr": "datum.value % 4 === 0 ? datum.label : ''",
            "tickSize": {"condition": {"test": "datum.value % 4 === 0", "value": -13}, "value": -8}
          }
        },
        "y": {
          "field": "v", "type": "quantitative",
          "scale": {"domain": [0, 1.4], "nice": false, "zero": false},
          "axis": {
            "title": "Chamber pressure/MPa",
            "titlePadding": 23,
            "format": ".1f",
            "values": [0.1, 0.2, 0.3, 0.4, 0.5, 0.6, 0.7, 0.8, 0.9, 1.0, 1.1, 1.2, 1.3, 1.4],
            "labelExpr": "round(datum.value * 10) % 2 === 0 ? datum.label : ''",
            "tickSize": {"condition": {"test": "round(datum.value * 10) % 2 === 0", "value": -13}, "value": -8}
          }
        }
      },
      "layer": [
        {"mark": {"type": "line", "color": "black", "strokeWidth": 3}, "encoding": {"detail": {"field": "s"}}},
        {"transform": [{"filter": "datum.m === 1 && datum.s === '0.01A'"}], "mark": {"type": "point", "shape": "square", "filled": true, "color": "black", "opacity": 1, "size": 220}},
        {"transform": [{"filter": "datum.m === 1 && datum.s === '0.015A'"}], "mark": {"type": "point", "shape": "circle", "filled": true, "color": "black", "opacity": 1, "size": 160}},
        {"transform": [{"filter": "datum.m === 1 && datum.s === '0.02A'"}], "mark": {"type": "point", "shape": "triangle-up", "filled": true, "color": "black", "opacity": 1, "size": 220}},
        {
          "transform": [{"filter": "datum.m === 9"}],
          "mark": {"type": "point", "filled": true, "color": "black", "opacity": 1, "size": 2500},
          "encoding": {
            "shape": {
              "field": "s", "type": "nominal",
              "scale": {"domain": ["0.01A", "0.015A", "0.02A"], "range": [
                "M-1.8,-0.06L1.8,-0.06L1.8,0.06L-1.8,0.06Z M-0.28,-0.28L0.28,-0.28L0.28,0.28L-0.28,0.28Z",
                "M-1.8,-0.06L1.8,-0.06L1.8,0.06L-1.8,0.06Z M-0.24,0A0.24,0.24 0 1,1 0.24,0A0.24,0.24 0 1,1 -0.24,0Z",
                "M-1.8,-0.06L1.8,-0.06L1.8,0.06L-1.8,0.06Z M0,-0.36L0.34,0.26L-0.34,0.26Z"]},
              "legend": {"title": null, "orient": "none", "legendX": 474, "legendY": 70, "labelExpr": "'Leakage area ' + datum.label"}
            }
          }
        }
      ]
    }
  ],
  "resolve": {
    "scale": {"x": "independent", "y": "independent", "shape": "independent"},
    "legend": {"shape": "independent"}
  },
  "config": {
    "font": "Liberation Serif",
    "view": {"stroke": "black", "strokeWidth": 2.5},
    "axis": {
      "domain": false,
      "grid": false,
      "ticks": true,
      "tickColor": "black",
      "tickWidth": 2.5,
      "labelFont": "Liberation Serif",
      "labelFontSize": 56,
      "labelColor": "black",
      "labelOverlap": false,
      "labelFlush": false,
      "titleFont": "Liberation Serif",
      "titleFontSize": 54,
      "titleFontWeight": "normal",
      "titleColor": "black"
    },
    "axisX": {"labelPadding": 33, "titlePadding": 4},
    "axisY": {"labelPadding": 32},
    "legend": {
      "labelFont": "Liberation Serif",
      "labelFontSize": 54,
      "labelColor": "black",
      "labelLimit": 0,
      "symbolSize": 2500,
      "labelOffset": 28,
      "rowPadding": 12,
      "padding": 0,
      "symbolFillColor": "black",
      "symbolStrokeWidth": 0
    },
    "title": {
      "font": "Liberation Serif, Noto Sans CJK SC",
      "fontSize": 55,
      "fontWeight": "normal",
      "color": "black",
      "orient": "bottom",
      "anchor": "middle",
      "offset": 15
    }
  }
}
